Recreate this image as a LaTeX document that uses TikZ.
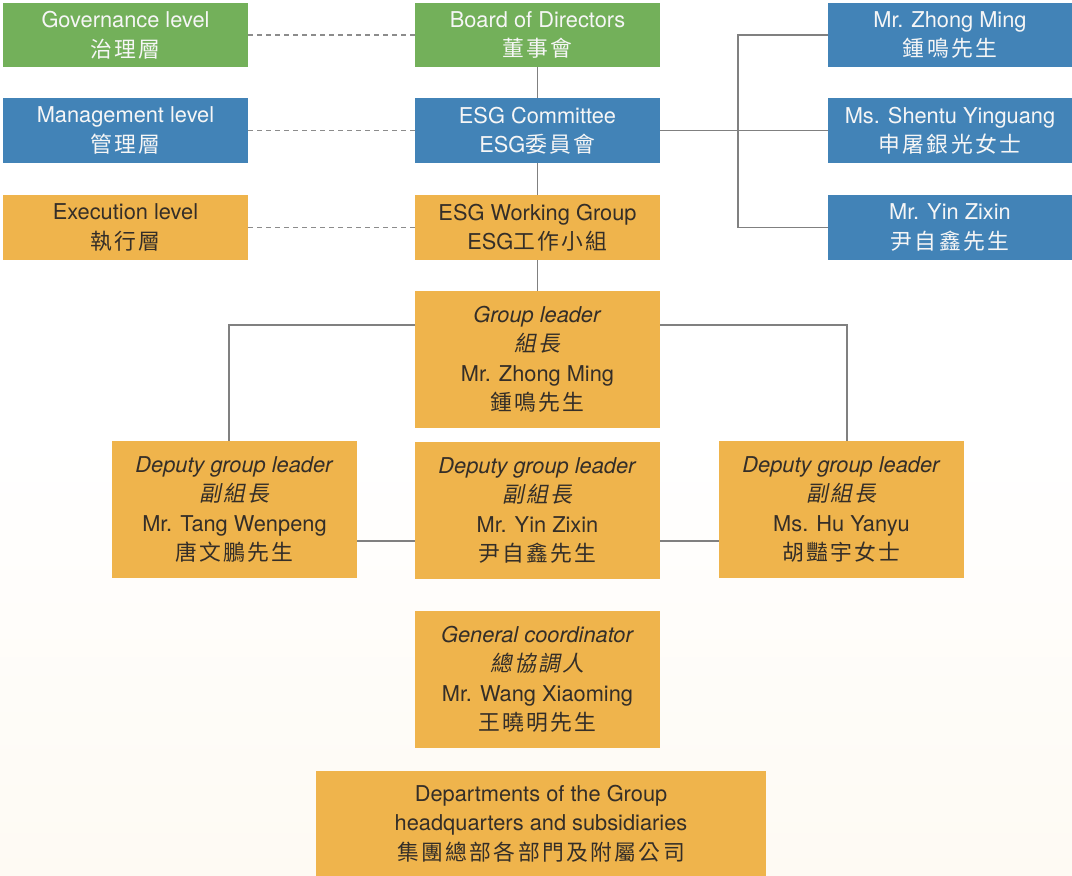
\documentclass[tikz,border=0pt]{standalone}
\usepackage{fontspec}
\setmainfont{TeX Gyre Heros}
\newfontfamily\cjk[LetterSpace=11]{Noto Sans CJK TC}
\newfontfamily\cjkit[FakeSlant=0.2,LetterSpace=11]{Noto Sans CJK TC}
\usetikzlibrary{calc}
\definecolor{cgreen}{RGB}{115,176,90}
\definecolor{cblue}{RGB}{66,131,183}
\definecolor{corange}{RGB}{239,180,76}
\definecolor{ctext}{RGB}{52,46,40}
\definecolor{cline}{RGB}{128,128,128}
\definecolor{cdash}{RGB}{140,140,140}
\definecolor{cream}{RGB}{254,250,243}
\definecolor{ctw}{RGB}{246,246,246}
\tikzset{
  box/.style={rectangle, inner sep=0pt, align=center, font=\fontsize{21.8}{29.5}\selectfont, minimum width=245pt},
  gbox/.style={box, fill=cgreen, text=ctw},
  bbox/.style={box, fill=cblue, text=ctw},
  obox/.style={box, fill=corange, text=ctext},
  link/.style={draw=cline, line width=1.3pt},
  dashlink/.style={draw=cdash, line width=1.3pt, dash pattern=on 5pt off 4pt}
}
\begin{document}
\begin{tikzpicture}[x=1pt,y=-1pt]
\shade[top color=white, bottom color=cream, middle color=white] (0,0) rectangle (1072,876);
\useasboundingbox (0,0) rectangle (1072,876);

% level column
\node[gbox, minimum height=64pt] (gov) at (125.5,35) {Governance level\\{\cjk 治理層}};
\node[bbox, minimum height=65pt] (mgmt) at (125.5,130.5) {Management level\\{\cjk 管理層}};
\node[obox, minimum height=65pt] (exe) at (125.5,227.5) {Execution level\\{\cjk 執行層}};

% main column
\node[gbox, minimum height=64pt] (board) at (537.5,35) {Board of Directors\\{\cjk 董事會}};
\node[bbox, minimum height=65pt] (esgc) at (537.5,130.5) {ESG Committee\\ESG{\cjk 委員會}};
\node[obox, minimum height=65pt] (esgwg) at (537.5,227.5) {ESG Working Group\\ESG{\cjk 工作小組}};

% committee members
\node[bbox, minimum width=244pt, minimum height=64pt] (zm) at (950,35) {Mr. Zhong Ming\\{\cjk 鍾鳴先生}};
\node[bbox, minimum width=244pt, minimum height=65pt] (st) at (950,130.5) {Ms. Shentu Yinguang\\{\cjk 申屠銀光女士}};
\node[bbox, minimum width=244pt, minimum height=65pt] (yz) at (950,227.5) {Mr. Yin Zixin\\{\cjk 尹自鑫先生}};

% working group
\node[obox, minimum height=137pt] (gl) at (537.5,359.5) {\textit{Group leader}\\{\cjkit 組長}\\Mr. Zhong Ming\\{\cjk 鍾鳴先生}};
\node[obox, minimum height=137pt] (dl) at (234.5,509.5) {\textit{Deputy group leader}\\{\cjkit 副組長}\\Mr. Tang Wenpeng\\{\cjk 唐文鵬先生}};
\node[obox, minimum height=137pt] (dm) at (537.5,510.5) {\textit{Deputy group leader}\\{\cjkit 副組長}\\Mr. Yin Zixin\\{\cjk 尹自鑫先生}};
\node[obox, minimum height=137pt] (dr) at (841.5,509.5) {\textit{Deputy group leader}\\{\cjkit 副組長}\\Ms. Hu Yanyu\\{\cjk 胡豔宇女士}};
\node[obox, minimum height=137pt] (gc) at (537.5,679.5) {\textit{General coordinator}\\{\cjkit 總協調人}\\Mr. Wang Xiaoming\\{\cjk 王曉明先生}};
\node[obox, minimum width=450pt, minimum height=105pt] (dep) at (541,823.5) {Departments of the Group\\headquarters and subsidiaries\\{\cjk 集團總部各部門及附屬公司}};

% dashed level links
\draw[dashlink] (gov.east) -- (board.west);
\draw[dashlink] (mgmt.east) -- (esgc.west);
\draw[dashlink] (exe.east) -- (esgwg.west);

% vertical chain
\draw[link] (board.south) -- (esgc.north);
\draw[link] (esgc.south) -- (esgwg.north);
\draw[link] (esgwg.south) -- (gl.north);

% committee bracket
\coordinate (bx) at (738,130.5);
\draw[link] (esgc.east) -- (st.west);
\draw[link] (zm.west) -| (bx) |- (yz.west);

% group leader to deputies
\coordinate (r325) at (0,325);
\coordinate (r541) at (0,541);
\draw[link] (gl.west |- r325) -| ([xshift=-5.5pt]dl.north);
\draw[link] (gl.east |- r325) -| ([xshift=5.5pt]dr.north);
\draw[link] (dl.east |- r541) -- (dm.west |- r541);
\draw[link] (dm.east |- r541) -- (dr.west |- r541);
\end{tikzpicture}
\end{document}
